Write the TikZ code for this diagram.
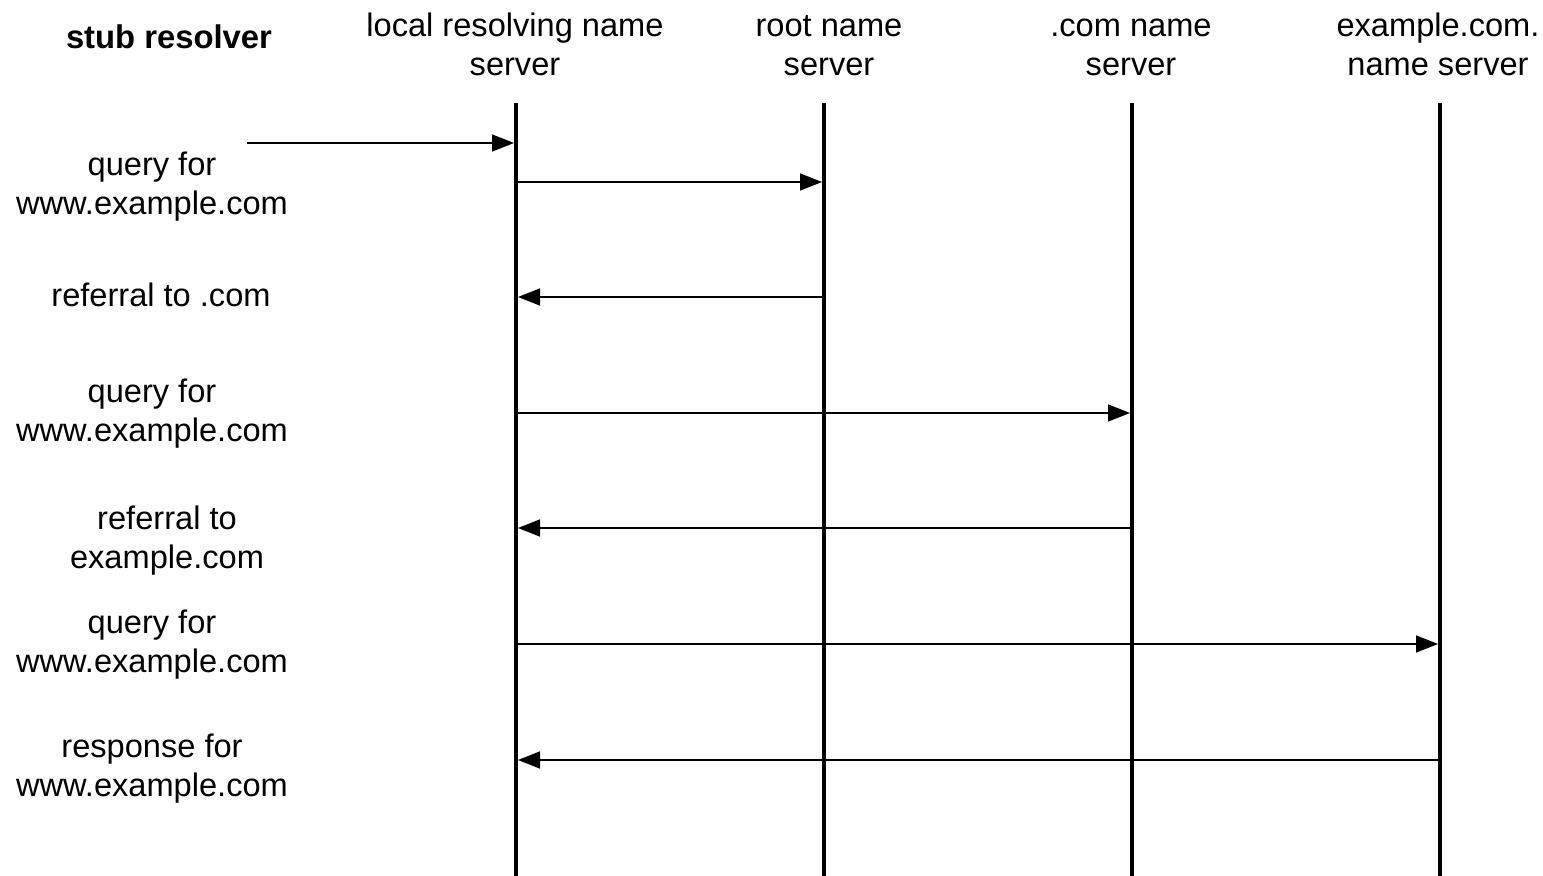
\documentclass[tikz,border=0pt]{standalone}
\usepackage{fontspec}
\setmainfont{Liberation Sans}
\usetikzlibrary{arrows.meta}
\begin{document}
\begin{tikzpicture}[x=0.5pt,y=-0.5pt,
  hdr/.style={align=center,font=\fontsize{16.3pt}{19.5pt}\selectfont,inner sep=0pt},
  lbl/.style={align=center,font=\fontsize{16.3pt}{19.5pt}\selectfont,inner sep=0pt},
  life/.style={line width=2pt,black},
  msg/.style={line width=0.8pt,black,-{Triangle[length=11pt,width=8.5pt]},shorten >=1pt,shorten <=1pt}]
\useasboundingbox (0,0) rectangle (1543,876);
% headers
\node[hdr,font=\fontsize{16.4pt}{19.5pt}\selectfont\bfseries] (hstub) at (169,41.2) {\strut stub resolver};
\node[hdr] (hlocal) at (515,48.7) {\strut local resolving name\\\strut server};
\node[hdr] (hroot) at (829,48.7) {\strut root name\\\strut server};
\node[hdr] (hcom) at (1131,48.7) {\strut .com name\\\strut server};
\node[hdr] (hex) at (1438,48.7) {\strut example.com.\\\strut name server};
% lifelines
\coordinate (t1) at (516,103); \coordinate (b1) at (516,876);
\coordinate (t2) at (824,103); \coordinate (b2) at (824,876);
\coordinate (t3) at (1132,103); \coordinate (b3) at (1132,876);
\coordinate (t4) at (1440,103); \coordinate (b4) at (1440,876);
\draw[life] (t1) -- (b1);
\draw[life] (t2) -- (b2);
\draw[life] (t3) -- (b3);
\draw[life] (t4) -- (b4);
% message points
\coordinate (s0) at (247,143); \coordinate (a0) at (516,143);
\coordinate (a1) at (516,182); \coordinate (r1) at (824,182);
\coordinate (a2) at (516,297); \coordinate (r2) at (824,297);
\coordinate (a3) at (516,413); \coordinate (c3) at (1132,413);
\coordinate (a4) at (516,528); \coordinate (c4) at (1132,528);
\coordinate (a5) at (516,644); \coordinate (e5) at (1440,644);
\coordinate (a6) at (516,760); \coordinate (e6) at (1440,760);
\draw[msg,shorten <=0pt] (s0) -- (a0);
\draw[msg] (a1) -- (r1);
\draw[msg] (r2) -- (a2);
\draw[msg] (a3) -- (c3);
\draw[msg] (c4) -- (a4);
\draw[msg] (a5) -- (e5);
\draw[msg] (e6) -- (a6);
% labels
\node[lbl] (l1) at (152,187) {\strut query for\\\strut www.example.com};
\node[lbl] (l2) at (161,299.2) {\strut referral to .com};
\node[lbl] (l3) at (152,414.7) {\strut query for\\\strut www.example.com};
\node[lbl] (l4) at (167,541.7) {\strut referral to\\\strut example.com};
\node[lbl] (l5) at (152,645.7) {\strut query for\\\strut www.example.com};
\node[lbl] (l6) at (152,769.7) {\strut response for\\\strut www.example.com};
\end{tikzpicture}
\end{document}
